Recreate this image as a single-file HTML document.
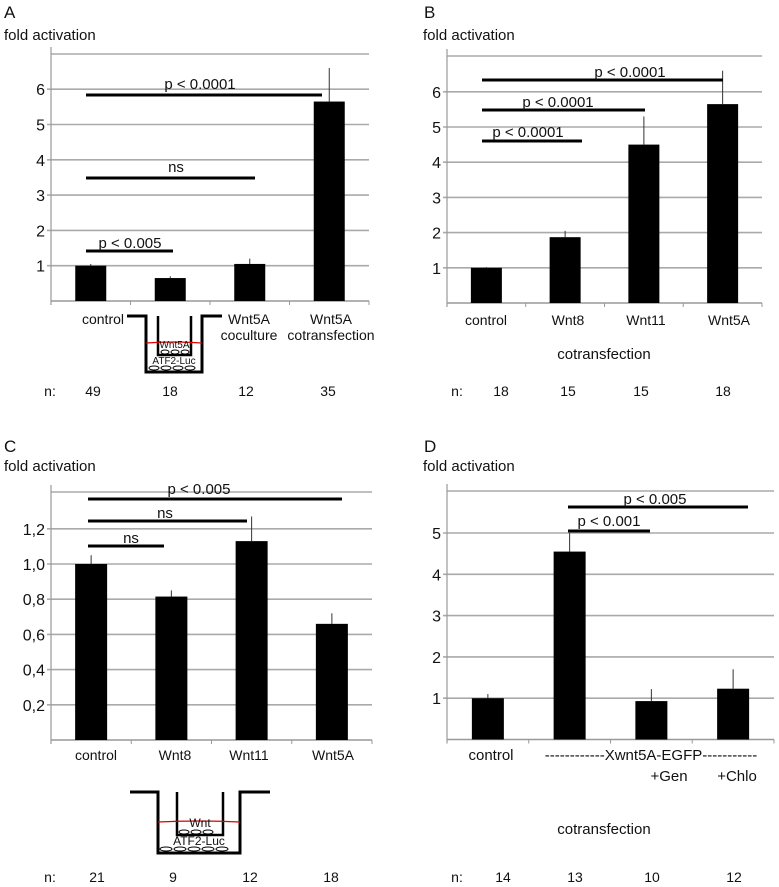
<!DOCTYPE html>
<html><head><meta charset="utf-8"><style>
html,body{margin:0;padding:0;background:#fff}
svg{display:block;font-family:"Liberation Sans",sans-serif}
</style></head><body>
<svg id="fig" width="779" height="887" viewBox="0 0 779 887" xmlns="http://www.w3.org/2000/svg"></svg>
<script>
// Panel A
const catsA=["control","","Wnt5A coculture","Wnt5A cotransfection"];
const valsA=[1.0,0.65,1.05,5.65];
const errA=[1.05,0.7,1.2,6.6];
const ticksA=[1,2,3,4,5,6];
const nA=["49","18","12","35"];
// Panel B
const catsB=["control","Wnt8","Wnt11","Wnt5A"];
const valsB=[1.0,1.87,4.5,5.65];
const errB=[1.02,2.05,5.3,6.6];
const ticksB=[1,2,3,4,5,6];
const nB=["18","15","15","18"];
// Panel C
const catsC=["control","Wnt8","Wnt11","Wnt5A"];
const valsC=[1.0,0.815,1.13,0.66];
const errC=[1.05,0.85,1.27,0.72];
const ticksC=["0,2","0,4","0,6","0,8","1,0","1,2"];
const tickValsC=[0.2,0.4,0.6,0.8,1.0,1.2];
const nC=["21","9","12","18"];
// Panel D
const catsD=["control","","+Gen","+Chlo"];
const valsD=[1.0,4.55,0.93,1.23];
const errD=[1.1,5.0,1.22,1.7];
const ticksD=[1,2,3,4,5];
const nD=["14","13","10","12"];

const svg=document.getElementById('fig');
const NS="http://www.w3.org/2000/svg";
function mk(tag,attrs,name,txt){
  const e=document.createElementNS(NS,tag);
  for(const k in attrs)e.setAttribute(k,attrs[k]);
  
  
  if(txt!==undefined)e.textContent=txt;
  svg.appendChild(e);return e;
}
function txt(x,y,s,name,anchor,size){
  return mk('text',{x:x,y:y,'font-size':size||14,'text-anchor':anchor||'middle',fill:'#111'},name,s);
}
function panel(p,cfg){
  const x0=cfg.x0,x1=cfg.x1,y0=cfg.y0,ppu=cfg.ppu;
  const Y=v=>y0-v*ppu;
  const n=cfg.vals.length,step=(x1-x0)/n;
  const X=i=>x0+step*(i+0.5);
  mk('line',{x1:x0,y1:cfg.top,x2:x1,y2:cfg.top,stroke:'#aaa','stroke-width':1.6},p+'-grid-top');
  cfg.tickVals.forEach((v,i)=>{
    mk('line',{x1:x0-4,y1:Y(v),x2:x1,y2:Y(v),stroke:'#aaa','stroke-width':1.6},p+'-gridline');
    txt(x0-6,Y(v)+6,cfg.tickLabels[i],p+'-y-tick-label','end',16);
  });
  mk('line',{x1:x0,y1:cfg.top-7,x2:x0,y2:y0+4,stroke:'#999','stroke-width':1.2},p+'-y-axis');
  mk('line',{x1:x0,y1:y0,x2:x1,y2:y0,stroke:'#999','stroke-width':1.4},p+'-x-axis');
  for(let i=0;i<=n;i++)mk('line',{x1:x0+step*i,y1:y0,x2:x0+step*i,y2:y0+4,stroke:'#999','stroke-width':1},p+'-x-tick');
  cfg.vals.forEach((v,i)=>{
    mk('line',{x1:X(i),y1:Y(cfg.err[i]),x2:X(i),y2:Y(v),stroke:'#333','stroke-width':1},p+'-error-bar');
    mk('rect',{x:X(i)-cfg.bw/2,y:Y(v),width:cfg.bw,height:v*ppu,fill:'#000'},p+'-bar-'+i);
  });
}
// Panel A
txt(4,18,"A","panel-a-label","start",17);
txt(4,40,"fold activation","panel-a-y-title","start",15);
panel('a',{x0:51,x1:369,y0:301,ppu:35.3,top:54,vals:valsA,err:errA,tickVals:ticksA,tickLabels:ticksA.map(String),bw:31});
[[86,322,95,200,89,"p < 0.0001"],[86,255,178,176,172,"ns"],[86,173,251,130,248,"p < 0.005"]].forEach(s=>{
  mk('line',{x1:s[0],y1:s[2],x2:s[1],y2:s[2],stroke:'#000','stroke-width':3},'a-significance-bar');
  txt(s[3],s[4],s[5],'a-significance-label','middle',15);
});
txt(103,324,catsA[0],'a-x-label-control');
txt(249,324,"Wnt5A",'a-x-label');txt(249,340,"coculture",'a-x-label');
txt(331,324,"Wnt5A",'a-x-label');txt(331,340,"cotransfection",'a-x-label');
txt(50,396,"n:",'a-n-label');
[93,170,246,328].forEach((x,i)=>txt(x,396,nA[i],'a-n-value'));
function inset(p,o){
  const g=(a,name)=>mk('path',Object.assign({fill:'none',stroke:'#000','stroke-width':3},a),name);
  g({d:`M${o.l0} ${o.rim} H${o.ow1} V${o.bot} H${o.ow2} V${o.rim} H${o.r1}`},p+'-inset-well');
  g({d:`M${o.iw1} ${o.rim} V${o.ib} H${o.iw2} V${o.rim}`,'stroke-width':2.5},p+'-inset-insert');
  mk('path',{d:`M${o.ow1} ${o.red} Q${(o.ow1+o.ow2)/2} ${o.red-2} ${o.ow2} ${o.red}`,stroke:'#d00',fill:'none','stroke-width':1.2},p+'-inset-medium');
  for(let x=o.iw1+7;x<o.iw2-5;x+=o.cs)mk('ellipse',{cx:x,cy:o.ib-3,rx:o.cs/2-1,ry:2,fill:'#fff',stroke:'#000','stroke-width':1},p+'-inset-cell');
  for(let x=o.ow1+8;x<o.ow2-5;x+=o.cs+2)mk('ellipse',{cx:x,cy:o.bot-4,rx:o.cs/2,ry:2,fill:'#fff',stroke:'#000','stroke-width':1},p+'-inset-cell');
  txt((o.iw1+o.iw2)/2,o.red+5,o.t1,p+'-inset-wnt-label','middle',o.fs);
  txt((o.ow1+o.ow2)/2,o.bot-8,"ATF2-Luc",p+'-inset-reporter-label','middle',o.fs);
}
inset('a',{l0:127,rim:316,ow1:146,ow2:202,r1:222,bot:372,iw1:158,iw2:191,ib:355,red:343,t1:"Wnt5A",fs:10,cs:10});

// Panel B
txt(424,18,"B","panel-b-label","start",17);
txt(423,40,"fold activation","panel-b-y-title","start",15);
panel('b',{x0:447,x1:762,y0:303,ppu:35.2,top:56,vals:valsB,err:errB,tickVals:ticksB,tickLabels:ticksB.map(String),bw:31});
[[482,723,80,630,77,"p < 0.0001"],[482,645,110,558,107,"p < 0.0001"],[482,582,141,528,137,"p < 0.0001"]].forEach(s=>{
  mk('line',{x1:s[0],y1:s[2],x2:s[1],y2:s[2],stroke:'#000','stroke-width':3},'b-significance-bar');
  txt(s[3],s[4],s[5],'b-significance-label','middle',15);
});
[486,568,646,729].forEach((x,i)=>txt(x,325,catsB[i],'b-x-label'));
txt(604,359,"cotransfection",'b-x-title','middle',15);
txt(457,396,"n:",'b-n-label');
[501,568,641,723].forEach((x,i)=>txt(x,396,nB[i],'b-n-value'));

// Panel C
txt(4,452,"C","panel-c-label","start",17);
txt(4,471,"fold activation","panel-c-y-title","start",15);
panel('c',{x0:51,x1:372,y0:740,ppu:176,top:492,vals:valsC,err:errC,tickVals:tickValsC,tickLabels:ticksC,bw:32});
[[88,342,499,199,494,"p < 0.005"],[88,247,521,165,518,"ns"],[88,164,546,131,543,"ns"]].forEach(s=>{
  mk('line',{x1:s[0],y1:s[2],x2:s[1],y2:s[2],stroke:'#000','stroke-width':3},'c-significance-bar');
  txt(s[3],s[4],s[5],'c-significance-label','middle',15);
});
[96,175,249,333].forEach((x,i)=>txt(x,760,catsC[i],'c-x-label'));
inset('c',{l0:130,rim:792,ow1:158,ow2:240,r1:270,bot:853,iw1:177,iw2:223,ib:835,red:822,t1:"Wnt",fs:12,cs:12});
txt(50,882,"n:",'c-n-label');
[97,173,250,331].forEach((x,i)=>txt(x,882,nC[i],'c-n-value'));

// Panel D
txt(424,452,"D","panel-d-label","start",17);
txt(423,471,"fold activation","panel-d-y-title","start",15);
panel('d',{x0:447,x1:774,y0:739.5,ppu:41.3,top:491,vals:valsD,err:errD,tickVals:ticksD,tickLabels:ticksD.map(String),bw:32});
[[568,748,507,655,504,"p < 0.005"],[568,650,531,609,526,"p < 0.001"]].forEach(s=>{
  mk('line',{x1:s[0],y1:s[2],x2:s[1],y2:s[2],stroke:'#000','stroke-width':3},'d-significance-bar');
  txt(s[3],s[4],s[5],'d-significance-label','middle',15);
});
txt(491,760,catsD[0],'d-x-label-control','middle',15);
txt(651,760,"------------Xwnt5A-EGFP-----------",'d-x-group-label','middle',15);
txt(669,781,catsD[2],'d-x-label','middle',15);
txt(737,781,catsD[3],'d-x-label','middle',15);
txt(604,834,"cotransfection",'d-x-title','middle',15);
txt(457,882,"n:",'d-n-label');
[503,575,652,734].forEach((x,i)=>txt(x,882,nD[i],'d-n-value'));
</script>
</body></html>
